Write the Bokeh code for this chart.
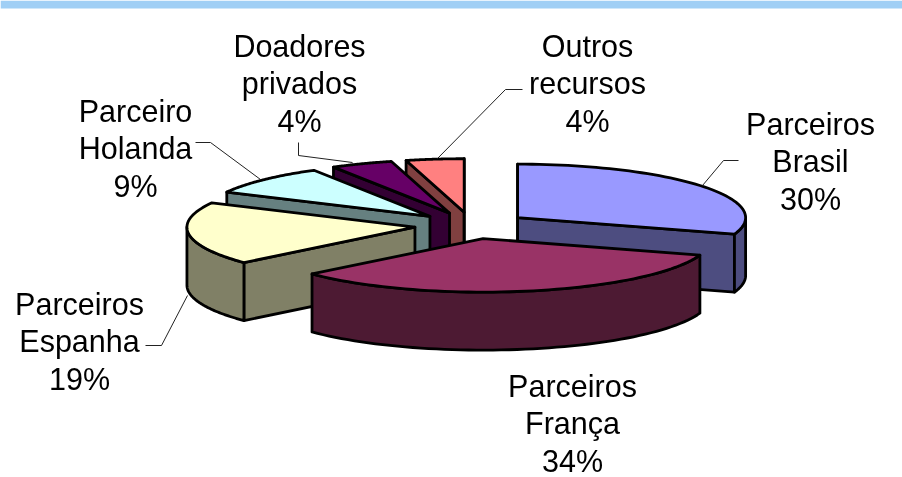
import numpy as np
from bokeh.plotting import figure
from bokeh.models import Range1d
from bokeh.core.properties import value
from bokeh.embed import file_html
from bokeh.resources import INLINE

# data
categories = ["Parceiros Brasil", "Parceiros França", "Parceiros Espanha",
              "Parceiro Holanda", "Doadores privados", "Outros recursos"]
shares = [30, 33.5, 19, 9, 4.4, 4.1]
label_lines = [["Parceiros", "Brasil", "30%"], ["Parceiros", "França", "34%"],
               ["Parceiros", "Espanha", "19%"], ["Parceiro", "Holanda", "9%"],
               ["Doadores", "privados", "4%"], ["Outros", "recursos", "4%"]]
top_colors = ["#9999FF", "#993366", "#FFFFCC", "#CCFFFF", "#660066", "#FF8080"]
wall_colors = ["#4D4D80", "#4D1A33", "#808066", "#668080", "#330033", "#804040"]

# layout
W, H = 902, 477
CX, CY, RX, RY, DEPTH, EXPLODE = 471, 225, 228, 53.5, 58, 0.25
label_centres = [(810, 123), (572, 385), (79, 303), (135, 110), (299, 45), (587, 45)]
LINE_STEP = 37.7
leaders = [([738, 723, 702], [160, 160, 185]),
           ([145, 161, 187], [345, 345, 295]),
           ([195, 210, 260], [142, 142, 179]),
           ([298, 298, 352], [142, 155, 162]),
           ([522, 505, 437], [89, 89, 158])]

p = figure(width=W, height=H, x_range=Range1d(0, W), y_range=Range1d(H, 0),
           output_backend="svg", toolbar_location=None, min_border=0,
           outline_line_color=None, background_fill_color="white",
           styles={"position": "fixed", "left": "0px", "top": "0px"})
p.axis.visible = False
p.grid.visible = False

p.quad(left=[0], right=[W], top=[0], bottom=[8], fill_color="#A0CFF5", line_color=None)

edges = np.cumsum([0] + shares) / sum(shares) * 2 * np.pi
EDGE = dict(line_color="black", line_width=2.8, line_join="round")


def pt(ax, ay, t):
    return ax + RX * np.sin(t), ay - RY * np.cos(t)


def mid(i):
    return (edges[i] + edges[i + 1]) / 2


def apex(i):
    return CX + EXPLODE * RX * np.sin(mid(i)), CY - EXPLODE * RY * np.cos(mid(i))


def wall_visible(ax, ay, ex, ey, mx, my):
    if abs(ex - ax) < 1:  # seen edge-on: a plain vertical edge
        return True
    # the wall shows when the top face lies above this radial edge
    return my < ay + (ey - ay) * (mx - ax) / (ex - ax)


for i in sorted(range(len(shares)), key=lambda k: apex(k)[1]):
    ax, ay = apex(i)
    a0, a1 = edges[i], edges[i + 1]
    mx, my = pt(ax, ay, mid(i))
    for t in (a0, a1):  # radial walls
        ex, ey = pt(ax, ay, t)
        if wall_visible(ax, ay, ex, ey, mx, my):
            p.patch([ax, ex, ex, ax], [ay, ey, ey + DEPTH, ay + DEPTH], fill_color=wall_colors[i], **EDGE)
    lo, hi = max(a0, np.pi / 2), min(a1, 3 * np.pi / 2)
    if hi > lo:  # visible part of the rim
        ts = np.linspace(lo, hi, 60)
        rx, ry = pt(ax, ay, ts)
        p.patch(np.r_[rx, rx[::-1]], np.r_[ry, ry[::-1] + DEPTH], fill_color=wall_colors[i], **EDGE)
    ts = np.linspace(a0, a1, 60)
    tx, ty = pt(ax, ay, ts)
    p.patch(np.r_[ax, tx], np.r_[ay, ty], fill_color=top_colors[i], **EDGE)

p.multi_line([l[0] for l in leaders], [l[1] for l in leaders], line_color="#222222", line_width=1)

xs, ys, txt = [], [], []
for lines, (lx, ly) in zip(label_lines, label_centres):
    for j, s in enumerate(lines):
        xs.append(lx)
        ys.append(ly + j * LINE_STEP)
        txt.append(s)
p.text(xs, ys, text=txt, text_font=value("Liberation Sans"), text_font_size="30.5px",
       text_color="black", text_align="center", text_baseline="middle")

open("out.html", "w").write(file_html(p, INLINE))
